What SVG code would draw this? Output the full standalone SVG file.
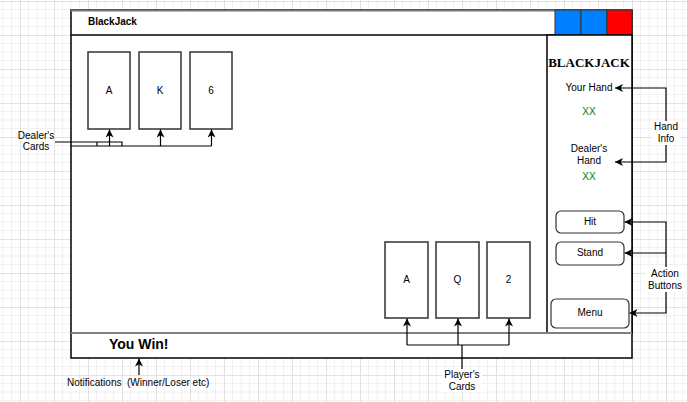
<svg xmlns="http://www.w3.org/2000/svg" width="687" height="402" viewBox="0 0 687 402">
<defs>
<pattern id="grid" x="20" y="1" width="34" height="34" patternUnits="userSpaceOnUse">
<rect width="34" height="34" fill="#ffffff"/>
<path d="M8.5,0V34M17,0V34M25.5,0V34M0,8.5H34M0,17H34M0,25.5H34" stroke="#f1f1f1" stroke-width="1" fill="none"/>
<path d="M0.5,0V34M0,0.5H34" stroke="#e2e2e2" stroke-width="1" fill="none"/>
</pattern>
<marker id="arr" markerUnits="userSpaceOnUse" markerWidth="9" markerHeight="8" refX="8" refY="4" orient="auto" viewBox="0 0 9 8">
<path d="M0,0 L8,4 L0,8 L2.2,4 Z" fill="#000"/>
</marker>
</defs>
<style>
text{font-family:"Liberation Sans",Arial,sans-serif;font-size:10px;fill:#000}
.c{text-anchor:middle}
.card{fill:#fff;stroke:#333;stroke-width:1.5}
.btn{fill:#fff;stroke:#333;stroke-width:1.2}
.conn{fill:none;stroke:#000;stroke-width:1.2}
.xx{fill:#007a00}
</style>
<rect width="687" height="402" fill="url(#grid)"/>

<g id="window">
<rect x="71" y="10" width="561" height="348" fill="#fff" stroke="#000" stroke-width="1.5"/>
<line x1="71" y1="10.5" x2="632" y2="10.5" stroke="#777" stroke-width="2"/>
<line x1="71" y1="35" x2="632" y2="35" stroke="#000" stroke-width="1.5"/>
<text x="88" y="25" font-weight="bold">BlackJack</text>
</g>

<g id="window-buttons">
<rect x="555" y="10" width="26" height="25" fill="#0080ff" stroke="#333" stroke-width="1"/>
<rect x="581" y="10" width="26" height="25" fill="#0080ff" stroke="#333" stroke-width="1"/>
<rect x="607" y="10" width="25" height="25" fill="#ff0000" stroke="#333" stroke-width="1"/>
</g>

<g id="side-panel">
<rect x="547" y="35" width="85" height="298" fill="#fff" stroke="#000" stroke-width="1.5"/>
<text x="589" y="67" class="c" style="font-family:'Liberation Serif','Times New Roman',serif;font-size:13px;font-weight:bold">BLACKJACK</text>
<text x="589" y="91" class="c">Your Hand</text>
<text x="589" y="115" class="c xx">XX</text>
<text x="589" y="152" class="c">Dealer's</text>
<text x="589" y="164" class="c">Hand</text>
<text x="589" y="180" class="c xx">XX</text>
</g>

<g id="status-bar">
<line x1="71" y1="333" x2="632" y2="333" stroke="#808080" stroke-width="2"/>
<text x="109" y="349" style="font-size:14px;font-weight:bold">You Win!</text>
</g>

<g id="dealer-card-1"><rect class="card" x="88" y="52" width="42" height="77"/><text class="c" x="109" y="93.5">A</text></g>
<g id="dealer-card-2"><rect class="card" x="139" y="52" width="42" height="77"/><text class="c" x="160" y="93.5">K</text></g>
<g id="dealer-card-3"><rect class="card" x="190" y="52" width="42" height="77"/><text class="c" x="211" y="93.5">6</text></g>

<g id="player-card-1"><rect class="card" x="385" y="242" width="43" height="76"/><text class="c" x="406.5" y="283">A</text></g>
<g id="player-card-2"><rect class="card" x="436" y="242" width="43" height="76"/><text class="c" x="457.5" y="283">Q</text></g>
<g id="player-card-3"><rect class="card" x="487" y="242" width="43" height="76"/><text class="c" x="508.5" y="283">2</text></g>

<g id="btn-hit"><rect class="btn" x="556" y="211" width="68" height="22" rx="5"/><text class="c" x="590" y="224.5">Hit</text></g>
<g id="btn-stand"><rect class="btn" x="556" y="242" width="68" height="23" rx="5"/><text class="c" x="590" y="256">Stand</text></g>
<g id="btn-menu"><rect class="btn" x="551" y="299" width="78" height="29" rx="5"/><text class="c" x="590" y="316">Menu</text></g>

<g id="connectors">
<path class="conn" d="M55,142H122V146M71,146H211.5M97,142V146"/>
<path class="conn" d="M109.5,146V129.5" marker-end="url(#arr)"/>
<path class="conn" d="M160.5,146V129.5" marker-end="url(#arr)"/>
<path class="conn" d="M211.5,146V129.5" marker-end="url(#arr)"/>

<path class="conn" d="M462,372V345M407,345H509"/>
<path class="conn" d="M407,345V318.5" marker-end="url(#arr)"/>
<path class="conn" d="M458,345V318.5" marker-end="url(#arr)"/>
<path class="conn" d="M509,345V318.5" marker-end="url(#arr)"/>

<path class="conn" d="M666,125V88H615" marker-end="url(#arr)"/>
<path class="conn" d="M666,125V162H615" marker-end="url(#arr)"/>

<path class="conn" d="M666,270V222H624.5" marker-end="url(#arr)"/>
<path class="conn" d="M666,253H624.5" marker-end="url(#arr)"/>
<path class="conn" d="M666,270V313H629.5" marker-end="url(#arr)"/>

<path class="conn" d="M139,375V358.5" marker-end="url(#arr)"/>
</g>

<g id="labels">
<text class="c" x="36" y="138.5">Dealer's</text>
<text class="c" x="36" y="150">Cards</text>
<rect x="442" y="369" width="40" height="23" fill="#fff"/>
<text class="c" x="462" y="377.5">Player's</text>
<text class="c" x="462" y="389.5">Cards</text>
<rect x="652" y="121" width="28" height="24" fill="#fff"/>
<text class="c" x="666" y="130">Hand</text>
<text class="c" x="666" y="142">Info</text>
<rect x="645" y="267" width="41" height="25" fill="#fff"/>
<text class="c" x="665" y="277">Action</text>
<text class="c" x="665" y="289">Buttons</text>
<text x="67" y="386" style="white-space:pre">Notifications  (Winner/Loser etc)</text>
</g>
</svg>
